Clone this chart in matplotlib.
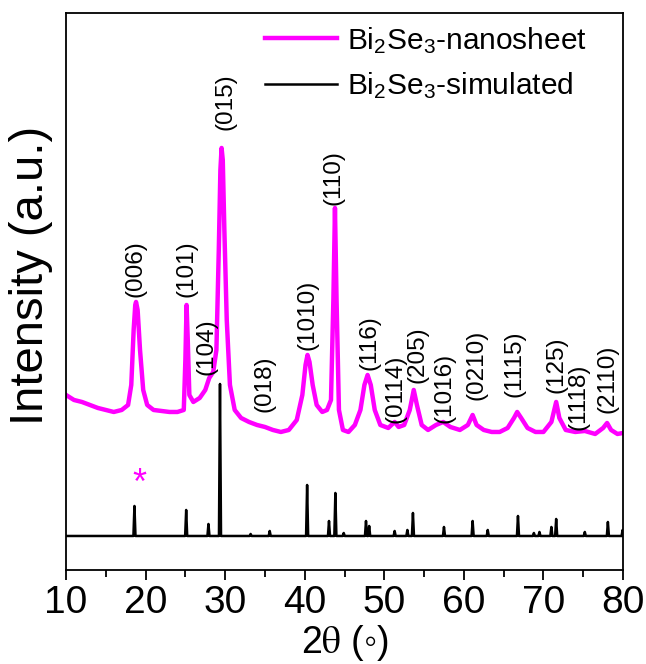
import numpy as np
import matplotlib
matplotlib.use("Agg")
import matplotlib.pyplot as plt

plt.rcParams["font.family"] = ["Liberation Sans", "DejaVu Sans"]
plt.rcParams["mathtext.fontset"] = "stix"
plt.rcParams["mathtext.default"] = "regular"

# measured nanosheet pattern (2theta, intensity a.u.)
nano_2theta = [10.0, 11, 12, 13, 14, 15, 16, 17, 17.8, 18.2, 18.5, 18.7, 18.8, 19.0, 19.3, 19.7,
               20.2, 21, 22, 23, 24, 24.8, 25.0, 25.15, 25.3, 25.5, 26, 26.8, 27.5, 28.0, 28.5,
               28.9, 29.2, 29.4, 29.55, 29.7, 29.9, 30.2, 30.6, 31.2, 32, 33, 34, 35, 36, 37, 38,
               39, 39.7, 40.1, 40.35, 40.6, 41.0, 41.5, 42.2, 42.8, 43.3, 43.6, 43.8, 44.0, 44.3,
               44.8, 45.5, 46.3, 47.0, 47.5, 47.9, 48.3, 48.8, 49.5, 50.5, 51.3, 51.8, 52.5, 53.2,
               53.7, 54.1, 54.7, 55.5, 56.5, 57.4, 58.3, 59.5, 60.5, 61.1, 61.6, 62.5, 63.5, 64.5,
               65.5, 66.3, 66.7, 67.2, 68, 69, 70, 71, 71.6, 72.0, 72.8, 74.0, 75.2, 76.5, 77.5,
               78.0, 78.5, 79.3, 80]
nano_int = [175, 170, 168, 165, 162, 160, 158, 160, 165, 185, 240, 265, 268, 260, 220, 180,
            165, 160, 159, 158, 158, 160, 210, 265, 230, 175, 168, 172, 180, 192, 198,
            220, 320, 400, 422, 410, 340, 250, 185, 160, 152, 148, 145, 143, 140, 138, 140,
            150, 175, 205, 215, 208, 185, 165, 158, 160, 170, 270, 362, 270, 160,
            140, 138, 145, 160, 185, 195, 185, 160, 145, 142, 148, 143, 145, 160,
            180, 165, 145, 140, 145, 148, 143, 140, 145, 155, 145, 140, 138, 138,
            142, 152, 158, 152, 142, 138, 138, 148, 168, 152, 140, 138, 139, 136, 142,
            147, 140, 136, 137]

# simulated pattern: peak positions and heights above baseline
sim_2theta = [18.6, 25.1, 27.9, 29.35, 33.2, 35.6, 40.3, 43.05, 43.85, 44.9, 47.7, 48.1, 51.3,
              52.9, 53.6, 57.5, 61.1, 63.0, 66.8, 68.8, 69.5, 71.0, 71.6, 75.2, 78.1, 79.95]
sim_int = [30, 26, 12, 152, 2, 5, 51, 15, 43, 3, 15, 10, 5,
           6, 23, 9, 15, 6, 20, 3, 4, 9, 17, 4, 14, 6]
sim_offset = 34

# peak labels (hkl, 2theta, label bottom)
hkl_labels = ["(006)", "(101)", "(104)", "(015)", "(018)", "(1010)", "(110)", "(116)", "(0114)",
              "(205)", "(1016)", "(0210)", "(1115)", "(125)", "(1118)", "(2110)"]
hkl_2theta = [18.67, 25.2, 27.7, 30.0, 34.9, 40.3, 43.6, 48.2, 51.35,
              54.2, 57.6, 61.65, 66.4, 71.7, 74.35, 78.1]
hkl_y = [273, 273, 195, 440, 158, 220, 365, 200, 147,
         187, 147, 170, 173, 177, 140, 157]

# stick pattern -> line through baseline/peak points
sx, sy = [10.0], [sim_offset]
for p, h in zip(sim_2theta, sim_int):
    sx += [p - 0.13, p, p + 0.13]
    sy += [sim_offset, sim_offset + h, sim_offset]
sx.append(80.0)
sy.append(sim_offset)

fig = plt.figure(figsize=(6.46, 6.64), dpi=100)
ax = fig.add_axes([0.1022, 0.1416, 0.8622, 0.8389])

ax.plot(nano_2theta, nano_int, color="#ff00ff", lw=3.2,
        label=r"Bi$_2$Se$_3$-nanosheet")
ax.plot(sx, sy, color="black", lw=1.8, label=r"Bi$_2$Se$_3$-simulated")

for t, x, y in zip(hkl_labels, hkl_2theta, hkl_y):
    ax.text(x, y, t, rotation=90, ha="center", va="bottom", fontsize=17.5)

ax.text(19.2, 86, "*", color="#ff00ff", ha="center", va="center", fontsize=26)

ax.set_xlim(10, 80)
ax.set_ylim(0, 557)
ax.set_xticks(range(10, 81, 10))
ax.set_xticks(range(15, 80, 10), minor=True)
ax.set_yticks([])
ax.tick_params(axis="x", which="major", direction="out", length=7, width=1.3,
               labelsize=28, pad=4)
ax.tick_params(axis="x", which="minor", direction="out", length=5, width=1.3)
for s in ax.spines.values():
    s.set_linewidth(1.3)

ax.set_xlabel(r"2$\mathrm{\theta}$ (◦)", fontsize=27, labelpad=1)
ax.set_ylabel("Intensity (a.u.)", fontsize=34)
ax.yaxis.set_label_coords(-0.024, 0.528)

ax.legend(loc="upper left", bbox_to_anchor=(0.336, 1.0), frameon=False, fontsize=21.5,
          handlelength=2.4, handletextpad=0.35, labelspacing=0.5, borderaxespad=0.0)

fig.savefig("out.png", dpi=100)
